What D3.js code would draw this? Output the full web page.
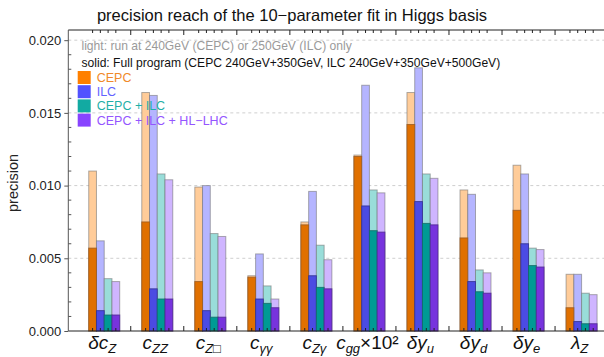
<!DOCTYPE html>
<html>
<head>
<meta charset="utf-8">
<script src="https://cdn.jsdelivr.net/npm/d3@7"></script>
<style>
  body { margin: 0; background: #fff; }
  svg { display: block; font-family: "Liberation Sans", Arial, sans-serif; }
</style>
</head>
<body>
<svg id="chart" width="604" height="357"></svg>
<script>
// categories (x labels split into main part, subscript, suffix)
const categories = ['dcZ', 'cZZ', 'cZbox', 'cgg_aa', 'cZa', 'cgg', 'dyu', 'dyd', 'dye', 'lZ'];
const labelMain = ['δc', 'c', 'c', 'c', 'c', 'c', 'δy', 'δy', 'δy', 'λ'];
const labelSub = ['Z', 'ZZ', 'Z□', 'γγ', 'Zγ', 'gg', 'u', 'd', 'e', 'Z'];
const labelSuffix = ['', '', '', '', '', '×10²', '', '', '', ''];

// light: 240/250 GeV run only, full: full program
const cepcLight = [0.0110, 0.0164, 0.0099, 0.0038, 0.0075, 0.0121, 0.0164, 0.0097, 0.0114, 0.0039];
const cepcFull = [0.0057, 0.0075, 0.0034, 0.0037, 0.0073, 0.0120, 0.0142, 0.0064, 0.0083, 0.0016];
const ilcLight = [0.0062, 0.0162, 0.0100, 0.0053, 0.0096, 0.0169, 0.0181, 0.0094, 0.0108, 0.0039];
const ilcFull = [0.0014, 0.0029, 0.0014, 0.0022, 0.0038, 0.0086, 0.0089, 0.0034, 0.0060, 0.00065];
const combLight = [0.0036, 0.0108, 0.0067, 0.0031, 0.0059, 0.0097, 0.0108, 0.0042, 0.0057, 0.0026];
const combFull = [0.0011, 0.0022, 0.00095, 0.0019, 0.0030, 0.0069, 0.0074, 0.0027, 0.0045, 0.0005];
const allLight = [0.0034, 0.0104, 0.0065, 0.0022, 0.0049, 0.0095, 0.0105, 0.0040, 0.0056, 0.0025];
const allFull = [0.0011, 0.0022, 0.00095, 0.0016, 0.0029, 0.0068, 0.0073, 0.0026, 0.0044, 0.0005];

const seriesNames = ['CEPC', 'ILC', 'CEPC + ILC', 'CEPC + ILC + HL\u2212LHC'];
const yTicks = [0, 0.005, 0.01, 0.015, 0.02];

const svg = d3.select('#chart');
const cs = {
  pallette: {
    solid: ['#e07000', '#4b4be3', '#009a94', '#7733dd'],
    solidStroke: ['#9a5a20', '#30308f', '#106b66', '#4d2790'],
    light: ['#ffcc99', '#b5b5ff', '#99ddd9', '#cfb5ff'],
    legend: ['#ff8000', '#5252ff', '#12aaa2', '#8844ff'],
    legendText: ['#f08a2a', '#6262ff', '#1fb0a8', '#9455ff'],
  },
  left: 68.3,
  top: 30,
  bottom: 331,
  right: 620,
};

const series = [
  { light: cepcLight, full: cepcFull },
  { light: ilcLight, full: ilcFull },
  { light: combLight, full: combFull },
  { light: allLight, full: allFull },
];

const x = d3.scaleBand().domain(categories).range([77.7, 608.1]).paddingInner(0);
const bw = x.bandwidth();
const xs = d3.scaleBand().domain(d3.range(4)).range([bw * 0.2078, bw * 0.7922]);
const y = d3.scaleLinear().domain([0, 0.0207]).range([cs.bottom, cs.top]);

// title
svg.append('text')
  .attr('x', 292).attr('y', 21)
  .attr('text-anchor', 'middle')
  .attr('font-size', 16.5)
  .attr('fill', '#111')
  .text('precision reach of the 10\u2212parameter fit in Higgs basis');

// grid
svg.append('g').selectAll('line')
  .data(yTicks.slice(1))
  .join('line')
  .attr('x1', cs.left).attr('x2', cs.right)
  .attr('y1', d => y(d)).attr('y2', d => y(d))
  .attr('stroke', '#cfcfcf')
  .attr('stroke-dasharray', '3,3');

// bars
series.forEach((s, i) => {
  const g = svg.append('g');
  g.selectAll('rect.light')
    .data(categories)
    .join('rect')
    .attr('class', 'light')
    .attr('x', (d) => x(d) + xs(i))
    .attr('width', xs.bandwidth())
    .attr('y', (d, j) => y(s.light[j]))
    .attr('height', (d, j) => y(0) - y(s.light[j]))
    .attr('fill', cs.pallette.light[i])
    .attr('stroke', 'rgba(110,110,110,0.55)')
    .attr('stroke-width', 1);
});
series.forEach((s, i) => {
  const g = svg.append('g');
  g.selectAll('rect.full')
    .data(categories)
    .join('rect')
    .attr('class', 'full')
    .attr('x', (d) => x(d) + xs(i))
    .attr('width', xs.bandwidth())
    .attr('y', (d, j) => y(s.full[j]))
    .attr('height', (d, j) => y(0) - y(s.full[j]))
    .attr('fill', cs.pallette.solid[i])
    .attr('stroke', cs.pallette.solidStroke[i])
    .attr('stroke-opacity', 0.8)
    .attr('stroke-width', 1);
});

// frame
const frame = svg.append('g').attr('stroke', '#222').attr('stroke-width', 1);
frame.append('line').attr('x1', cs.left).attr('x2', cs.right).attr('y1', cs.bottom).attr('y2', cs.bottom);
frame.append('line').attr('x1', cs.left).attr('x2', cs.right).attr('y1', cs.top).attr('y2', cs.top);
frame.append('line').attr('x1', cs.left).attr('x2', cs.left).attr('y1', cs.top).attr('y2', cs.bottom).attr('stroke', '#555');

// x ticks: boundaries (major) and bar centres (minor), bottom and top
const majorX = categories.slice(1).map(d => x(d));
const minorX = [];
categories.forEach((c) => { d3.range(4).forEach((k) => { minorX.push(x(c) + xs(k) + xs.bandwidth() / 2); }); });
[[cs.bottom, -1], [cs.top, 1]].forEach(([yy, dir]) => {
  frame.append('g').selectAll('line').data(majorX).join('line')
    .attr('x1', d => d).attr('x2', d => d)
    .attr('y1', yy).attr('y2', yy + dir * 5);
  frame.append('g').selectAll('line').data(minorX).join('line')
    .attr('x1', d => d).attr('x2', d => d)
    .attr('y1', yy).attr('y2', yy + dir * 3);
});

// y axis
const yAxis = d3.axisLeft(y).tickValues(yTicks).tickFormat(d3.format('.3f')).tickSize(4).tickPadding(3);
const ya = svg.append('g').attr('transform', `translate(${cs.left},0)`).call(yAxis);
ya.select('.domain').remove();
ya.selectAll('line').attr('stroke', '#555');
ya.selectAll('text').attr('font-size', 13).attr('fill', '#222').attr('font-family', '"Liberation Sans", Arial, sans-serif');
svg.append('g').selectAll('line')
  .data(d3.range(0, 0.0201, 0.001).filter((d, i) => i % 5 !== 0))
  .join('line')
  .attr('x1', cs.left).attr('x2', cs.left + 3)
  .attr('y1', d => y(d)).attr('y2', d => y(d))
  .attr('stroke', '#555');

svg.append('text')
  .attr('transform', 'translate(18,183) rotate(-90)')
  .attr('text-anchor', 'middle')
  .attr('font-size', 14.5)
  .attr('fill', '#222')
  .text('precision');

// x labels
const xl = svg.append('g').selectAll('text')
  .data(categories)
  .join('text')
  .attr('x', d => x(d) + bw / 2 - 2)
  .attr('y', 349)
  .attr('text-anchor', 'middle')
  .attr('font-size', 19)
  .attr('fill', '#111');
xl.append('tspan').attr('font-style', 'italic').text((d, i) => labelMain[i]);
xl.append('tspan').attr('font-size', 13).attr('font-style', 'italic').attr('dy', 4).text((d, i) => labelSub[i]);
xl.append('tspan').attr('dy', -4).text((d, i) => labelSuffix[i]);

// legend
svg.append('text').attr('x', 81.5).attr('y', 50)
  .attr('font-size', 12.1).attr('fill', '#9a9a9a')
  .text('light: run at 240GeV (CEPC) or 250GeV (ILC) only');
svg.append('text').attr('x', 81.5).attr('y', 66.5)
  .attr('font-size', 12.1).attr('fill', '#111')
  .text('solid: Full program (CEPC 240GeV+350GeV, ILC 240GeV+350GeV+500GeV)');
const lg = svg.append('g').selectAll('g')
  .data(seriesNames)
  .join('g')
  .attr('transform', (d, i) => `translate(77.7,${71 + i * 14.2})`);
lg.append('rect')
  .attr('width', 13).attr('height', 13)
  .attr('fill', (d, i) => cs.pallette.legend[i]);
lg.append('text')
  .attr('x', 19).attr('y', 11)
  .attr('font-size', 12.5)
  .attr('fill', (d, i) => cs.pallette.legendText[i])
  .text(d => d);
</script>
</body>
</html>
